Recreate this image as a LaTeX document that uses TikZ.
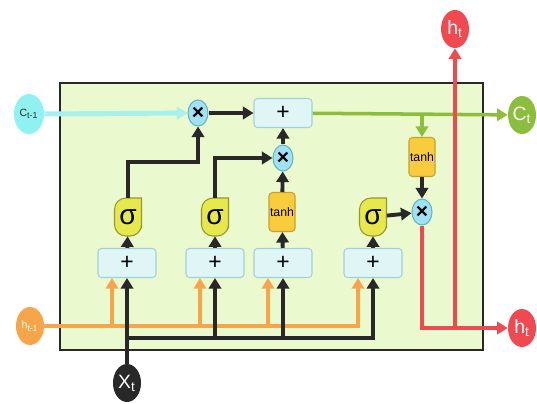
\documentclass[tikz,border=0pt]{standalone}
\usepackage{fontspec}
\setmainfont{Liberation Sans}
\usetikzlibrary{arrows.meta,shapes,positioning,calc}

\definecolor{cellgreen}{RGB}{234,249,206}
\definecolor{addfill}{RGB}{224,246,246}
\definecolor{addedge}{RGB}{160,210,220}
\definecolor{mulfill}{RGB}{160,226,244}
\definecolor{muledge}{RGB}{100,180,200}
\definecolor{sigfill}{RGB}{230,232,76}
\definecolor{sigedge}{RGB}{150,150,50}
\definecolor{tanhfill}{RGB}{248,204,60}
\definecolor{tanhedge}{RGB}{200,160,40}
\definecolor{cyanline}{RGB}{168,240,238}
\definecolor{greenline}{RGB}{140,190,62}
\definecolor{redline}{RGB}{240,74,80}
\definecolor{orangeline}{RGB}{248,164,72}
\definecolor{inkdark}{RGB}{40,40,40}

\begin{document}
\begin{tikzpicture}[x=0.02cm, y=-0.02cm, >={Triangle[length=6pt,width=7pt]},
  every node/.style={font=\small, inner sep=0pt},
  addbox/.style={draw=addedge, fill=addfill, line width=0.6pt, rounded corners=2pt,
    minimum width=1.16cm, minimum height=0.58cm, font=\fontsize{13}{13}\selectfont},
  mulnode/.style={ellipse, draw=muledge, fill=mulfill, line width=0.6pt,
    minimum width=0.4cm, minimum height=0.52cm, font=\fontsize{12}{12}\selectfont\bfseries},
  signode/.style={minimum width=0.54cm, minimum height=0.76cm, font=\fontsize{16}{16}\selectfont},
  sigshape/.style={fill=sigfill, draw=sigedge, line width=0.6pt},
  tanhbox/.style={draw=tanhedge, fill=tanhfill, line width=0.6pt, rounded corners=2pt,
    minimum width=0.52cm, minimum height=0.78cm, font=\fontsize{7}{7}\selectfont},
  term/.style={ellipse, minimum width=0.56cm, minimum height=0.76cm, text=white,
    font=\fontsize{11}{11}\selectfont},
  kline/.style={draw=inkdark, line width=2.2pt},
  cline/.style={draw=cyanline, line width=2.8pt},
  gline/.style={draw=greenline, line width=2pt},
  rline/.style={draw=redline, line width=2pt},
  oline/.style={draw=orangeline, line width=2.6pt}]
  \useasboundingbox (0,0) rectangle (537,403);

  % cell body
  \filldraw[fill=cellgreen, draw=inkdark, line width=1.2pt] (60,83) rectangle (483,350);

  % outer terminals
  \node[term, fill=cyanline!85!cyan, text=inkdark, minimum width=0.6cm, minimum height=0.8cm,
    font=\fontsize{6}{6}\selectfont] (cprev) at (29,114) {C\textsubscript{t-1}};
  \node[term, fill=orangeline] (hprev) at (30,326) {\fontsize{6}{6}\selectfont h\textsubscript{t-1}};
  \node[term, fill=greenline] (ct) at (522,115) {C\textsubscript{t}};
  \node[term, fill=redline] (htt) at (455,29) {h\textsubscript{t}};
  \node[term, fill=redline] (htr) at (522,328) {h\textsubscript{t}};
  \node[term, fill=inkdark] (xt) at (127,383) {X\textsubscript{t}};

  % adders
  \node[addbox] (a0) at (283,113) {+};
  \node[addbox] (a1) at (127,263) {+};
  \node[addbox] (a2) at (215,263) {+};
  \node[addbox] (a3) at (283,263) {+};
  \node[addbox] (a4) at (373,263) {+};

  % gates
  \foreach \px/\py in {128/217, 215/217, 373/217}
    \filldraw[sigshape] (\px,\py-19) [rounded corners=6.5pt] -- (\px-13.5,\py-19)
      -- (\px-13.5,\py+19) -- (\px+13.5,\py+19) -- (\px+13.5,\py) [sharp corners]
      -- (\px+13.5,\py-19) -- cycle;
  \node[signode] (sg1) at (128,217) {σ};
  \node[signode] (sg2) at (215,217) {σ};
  \node[signode] (sg3) at (373,217) {σ};
  \node[tanhbox] (th1) at (282,212) {tanh};
  \node[tanhbox] (th2) at (422,157) {tanh};

  % pointwise products
  \node[mulnode] (m1) at (198,113) {×};
  \node[mulnode] (m2) at (283,158) {×};
  \node[mulnode] (m3) at (422,212) {×};

  % cell state
  \draw[cline, ->] (cprev) -- (m1);
  \draw[kline, ->] (m1) -- (a0);
  \draw[gline, ->] (a0) -- (ct);
  \draw[gline, ->] (th2 |- a0) -- (th2);

  % gate outputs
  \draw[kline, ->] (sg1.north) -- ++(0,-36) -| (m1);
  \draw[kline, ->] (sg2.north) |- (m2);
  \draw[kline, ->] (th1) -- (m2);
  \draw[kline, ->] (m2) -- (a0);
  \draw[kline, ->] (th2) -- (m3);
  \draw[kline, ->] (sg3) -- (m3);
  \foreach \b/\g in {a1/sg1, a2/sg2, a3/th1, a4/sg3}
    \draw[kline, ->] (\b) -- (\g);

  % hidden output
  \draw[rline, ->] (m3) |- (htr);
  \draw[rline, ->] (htt |- htr) -- (htt);

  % inputs
  \draw[oline, ->] (hprev) -| ($(a4.south)+(-15,0)$);
  \foreach \b in {a1,a2,a3}
    \draw[oline, ->] ($(\b.south |- hprev)+(-15,0)$) -- ($(\b.south)+(-15,0)$);
  \draw[kline, ->] (xt) -- (a1);
  \draw[kline, ->] ($(xt |- hprev)+(0,12)$) -| (a4);
  \foreach \b in {a2,a3}
    \draw[kline, ->] ($(\b.south |- hprev)+(0,12)$) -- (\b);
\end{tikzpicture}
\end{document}
